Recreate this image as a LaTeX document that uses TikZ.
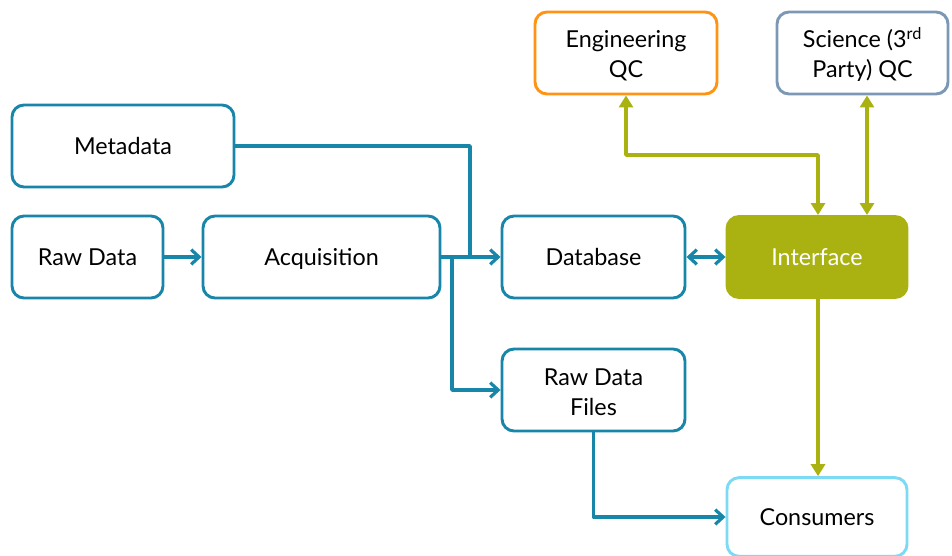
\documentclass[tikz,border=0pt]{standalone}
\usepackage{fontspec}
\setmainfont{Lato}
\usetikzlibrary{arrows.meta}
\definecolor{cblue}{RGB}{24,134,168}
\definecolor{colive}{RGB}{170,178,18}
\definecolor{corange}{RGB}{255,148,20}
\definecolor{cgrey}{RGB}{125,152,180}
\definecolor{ccyan}{RGB}{125,218,245}
\begin{document}
\begin{tikzpicture}[x=0.75pt,y=-0.75pt,
  box/.style={draw=cblue,line width=2.2pt,rounded corners=9pt,minimum height=61.5pt,inner sep=2pt,align=center,font=\fontsize{17.5}{22.5}\selectfont,text=black},
  one/.style={text height=16.6pt,text depth=4pt},
  bline/.style={draw=cblue,line width=2.6pt,line join=round},
  barr/.style={bline,-{Straight Barb[length=6pt,width=11pt,line width=2.4pt]}},
  oline/.style={draw=colive,line width=2.6pt,line join=round},
  oarr/.style={oline,{Triangle[length=9pt,width=10.5pt]}-{Triangle[length=9pt,width=10.5pt]}}]
\useasboundingbox (0,0) rectangle (952,556);
\node[box,one,minimum width=166.5pt] (meta) at (123,146) {Metadata};
\node[box,one,minimum width=113.25pt] (raw) at (87.5,257) {Raw Data};
\node[box,one,minimum width=177.75pt] (acq) at (321.5,257) {Acquisition};
\node[box,one,minimum width=137.25pt] (db) at (593.5,257) {Database};
\node[box,one,draw=colive,fill=colive,text=white,minimum width=135pt,minimum height=60.75pt] (iface) at (817,257) {Interface};
\node[box,minimum width=137.25pt] (rdf) at (593.5,390) {\rule{0pt}{15.5pt}Raw Data\\Files};
\node[box,one,draw=ccyan,minimum width=135pt,minimum height=59pt] (cons) at (817,517) {Consumers};
\node[box,draw=corange,minimum width=136.5pt] (eqc) at (626,53) {\rule{0pt}{17pt}Engineering\\QC};
\node[box,draw=cgrey,minimum width=128.25pt] (sqc) at (862.5,53) {\rule{0pt}{18pt}Science (3\textsuperscript{rd}\\Party) QC};
\coordinate (j1) at (470,257);
\coordinate (j2) at (452,257);
\coordinate (k) at (818,155);
\coordinate (s) at (867,155);
\draw[bline] (meta.east) -| (j1);
\draw[barr] (acq.east) -- (db.west);
\draw[barr] (j2) |- (rdf.west);
\draw[barr] (raw.east) -- (acq.west);
\draw[bline,{Straight Barb[length=6pt,width=11pt,line width=2.4pt]}-{Straight Barb[length=6pt,width=11pt,line width=2.4pt]}] (db.east) -- (iface.west);
\draw[oarr] (eqc.south) |- (k) -- (iface.north -| k);
\draw[oarr] (sqc.south -| s) -- (iface.north -| s);
\draw[oline,-{Triangle[length=9pt,width=10.5pt]}] (iface.south -| k) -- (cons.north -| k);
\draw[barr] (rdf.south) |- (cons.west);
\end{tikzpicture}
\end{document}
